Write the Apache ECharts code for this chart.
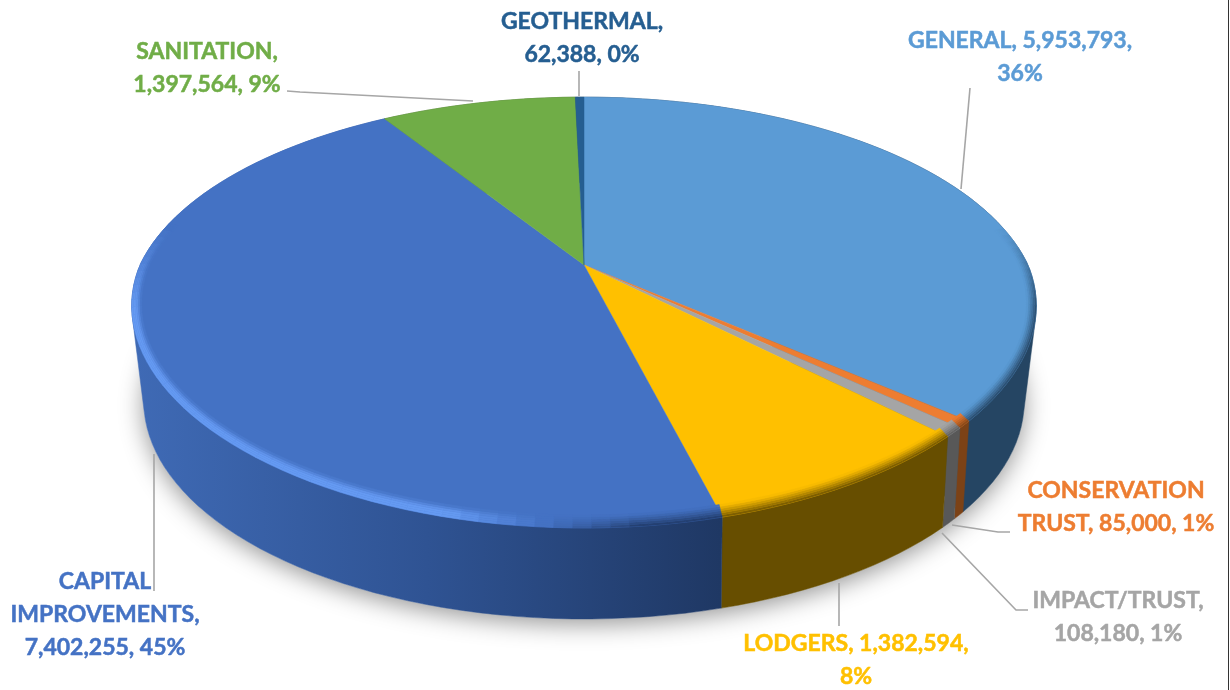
<!DOCTYPE html>
<html>
<head>
<meta charset="utf-8">
<script src="https://cdnjs.cloudflare.com/ajax/libs/echarts/6.0.0/echarts.min.js"></script>
<style>
  html, body { margin: 0; padding: 0; background: #fff; }
  #mainChart { width: 1230px; height: 690px; }
</style>
</head>
<body>
<div id="mainChart"></div>
<script>
// data, clockwise from 12 o'clock
var names = ['GENERAL', 'CONSERVATION TRUST', 'IMPACT/TRUST', 'LODGERS', 'CAPITAL IMPROVEMENTS', 'SANITATION', 'GEOTHERMAL'];
var values = [5953793, 85000, 108180, 1382594, 7402255, 1397564, 62388];
var percents = [36, 1, 1, 8, 45, 9, 0];

var faceColors = ['#5B9BD5', '#ED7D31', '#A5A5A5', '#FFC000', '#4472C4', '#70AD47', '#255E91'];
var wallColors = ['#254563', '#7C4216', '#585858', '#674E00', '#26417A', '#40652A', '#153654'];
var labelColors = faceColors;

// label text with the same line breaks as the original
var labelLines = [
    'GENERAL, 5,953,793,\n36%',
    'CONSERVATION\nTRUST, 85,000, 1%',
    'IMPACT/TRUST,\n108,180, 1%',
    'LODGERS, 1,382,594,\n8%',
    'CAPITAL\nIMPROVEMENTS,\n7,402,255, 45%',
    'SANITATION,\n1,397,564, 9%',
    'GEOTHERMAL,\n62,388, 0%'
];
var labelPos = [[1020, 57], [1116, 507], [1118, 617], [856, 660], [105, 615], [207, 68], [582, 38]];
var leaders = [
    [[970, 88], [961, 189]],
    [[952, 525], [998, 532], [1010, 532]],
    [[942, 533], [1016, 610], [1028, 610]],
    [[839, 583], [839, 626]],
    [[154, 454], [154, 591]],
    [[287, 91], [300, 92], [473, 101]],
    [[579, 71], [579, 96]]
];

// perspective disc: top face and bottom face
var total = values.reduce(function (a, b) { return a + b; }, 0);
var topFace = { cx: 584, cy: 265, a: 204, b: 444, q: 0.215, fx: 0.025, fy: 0.012 };
var botFace = { cx: 584, cy: 354, a: 208, b: 430, q: 0.215, fx: 0, fy: 0 };

function project(f, ang, rx, ry) {
    var u = Math.sin(ang), v = -Math.cos(ang);
    var w = 1 - f.q * v;
    var front = Math.max(v, 0);
    // front edge is a little narrower and lower than a pure perspective circle
    return [f.cx + f.b * u / w * rx * (1 - f.fx * front), f.cy + f.a * v / w * ry * (1 + f.fy * front)];
}

function sliceAngles(i) {
    var before = 0;
    for (var k = 0; k < i; k++) before += values[k];
    return [before / total * Math.PI * 2, (before + values[i]) / total * Math.PI * 2];
}

function arc(f, a0, a1, rx, ry) {
    var n = Math.max(2, Math.ceil((a1 - a0) / (Math.PI / 90)));
    var pts = [];
    for (var j = 0; j <= n; j++) pts.push(project(f, a0 + (a1 - a0) * j / n, rx, ry));
    return pts;
}

// convex hull, so the wall follows the outer tangent between the two faces
function hull(pts) {
    pts = pts.slice().sort(function (p, q) { return p[0] - q[0] || p[1] - q[1]; });
    function cross(o, a, b) { return (a[0] - o[0]) * (b[1] - o[1]) - (a[1] - o[1]) * (b[0] - o[0]); }
    function half(list) {
        var out = [];
        list.forEach(function (p) {
            while (out.length >= 2 && cross(out[out.length - 2], out[out.length - 1], p) <= 0) out.pop();
            out.push(p);
        });
        out.pop();
        return out;
    }
    return half(pts).concat(half(pts.slice().reverse()));
}

function hex(c) {
    return [parseInt(c.substr(1, 2), 16), parseInt(c.substr(3, 2), 16), parseInt(c.substr(5, 2), 16)];
}
function mix(c1, c2, t) {
    var a = hex(c1), b = hex(c2);
    return 'rgb(' + [0, 1, 2].map(function (k) { return Math.round(a[k] + (b[k] - a[k]) * t); }).join(',') + ')';
}
function clamp(x) { return Math.max(0, Math.min(1, x)); }

function renderShadow() {
    return {
        type: 'polygon',
        shape: { points: arc(botFace, 0, Math.PI * 2, 1, 1) },
        style: { fill: '#fff', shadowBlur: 24, shadowColor: 'rgba(0,0,0,0.42)', shadowOffsetY: 5 },
        silent: true
    };
}

function renderWall(params, api) {
    var i = params.dataIndex;
    var r = sliceAngles(i);
    var fill = wallColors[i];
    if (i === 4) {
        fill = new echarts.graphic.LinearGradient(135, 0, 720, 0, [
            { offset: 0, color: '#3F6AB5' },
            { offset: 0.5, color: '#2F5393' },
            { offset: 1, color: '#1F3864' }
        ], true);
    }
    var pts = arc(topFace, r[0], r[1], 1, 1).concat(arc(botFace, r[0], r[1], 1, 1));
    return {
        type: 'polygon',
        shape: { points: hull(pts) },
        style: { fill: fill, stroke: fill, lineWidth: 0.5 },
        silent: true
    };
}

function renderFace(params, api) {
    var i = params.dataIndex;
    var r = sliceAngles(i);
    var face = faceColors[i];
    var wall = i === 4 ? '#1F3864' : wallColors[i];
    var light = '#659AF2';
    var children = [{
        type: 'polygon',
        shape: { points: [[topFace.cx, topFace.cy]].concat(arc(topFace, r[0], r[1], 1, 1)) },
        style: { fill: face, stroke: face, lineWidth: 0.5 },
        silent: true
    }];
    // rounded rim: thin strips along the edge, light on the left, dark on the right
    var steps = 6, seg = Math.PI / 90;
    var nseg = Math.max(1, Math.ceil((r[1] - r[0]) / seg));
    for (var j = 0; j < nseg; j++) {
        var a0 = r[0] + (r[1] - r[0]) * j / nseg;
        var a1 = r[0] + (r[1] - r[0]) * (j + 1) / nseg;
        var mid = (a0 + a1) / 2;
        var u = Math.sin(mid), v = -Math.cos(mid);
        var front = clamp((v + 0.2) / 0.4);
        if (front <= 0) continue;
        var hi = clamp((0.1 - u) / 0.35);
        for (var s = 0; s < steps; s++) {
            var t0 = s / steps, t1 = (s + 1) / steps, tm = (t0 + t1) / 2;
            var col = hi > 0.5
                ? mix(face, light, front * (hi - 0.5) * 2 * Math.min(1, 2 * (1 - tm)))
                : mix(face, wall, front * (1 - hi * 2) * Math.pow(1 - tm, 1.2) * 0.95);
            var p = [
                project(topFace, a0, 1 - 0.022 * t0, 1 - 0.05 * t0),
                project(topFace, a1, 1 - 0.022 * t0, 1 - 0.05 * t0),
                project(topFace, a1, 1 - 0.022 * t1, 1 - 0.05 * t1),
                project(topFace, a0, 1 - 0.022 * t1, 1 - 0.05 * t1)
            ];
            children.push({ type: 'polygon', shape: { points: p }, style: { fill: col, stroke: col, lineWidth: 0.4 }, silent: true });
        }
    }
    return { type: 'group', children: children };
}

var graphics = [];
leaders.forEach(function (pts) {
    graphics.push({
        type: 'polyline', z: 5, silent: true,
        shape: { points: pts },
        style: { stroke: '#A6A6A6', lineWidth: 1.6, fill: null }
    });
});
labelLines.forEach(function (txt, i) {
    graphics.push({
        type: 'text', z: 6, silent: true,
        x: labelPos[i][0], y: labelPos[i][1],
        style: {
            text: txt,
            fill: labelColors[i],
            stroke: labelColors[i],
            lineWidth: 0.5,
            font: 'bold 23px Lato, "Open Sans", sans-serif',
            lineHeight: 33,
            align: 'center',
            verticalAlign: 'middle'
        }
    });
});
// thin frame edge at the right of the screenshot
graphics.push({
    type: 'rect', z: 7, silent: true,
    shape: { x: 1228, y: 0, width: 1, height: 690 },
    style: { fill: '#333' }
});

var chart = echarts.init(document.getElementById('mainChart'), null, { renderer: 'canvas' });
var option = {
    animation: false,
    backgroundColor: '#fff',
    graphic: graphics,
    series: [
        { type: 'custom', coordinateSystem: 'none', z: 1, data: [0], renderItem: renderShadow, silent: true },
        { type: 'custom', coordinateSystem: 'none', z: 2, name: 'wall', data: values, renderItem: renderWall, silent: true },
        { type: 'custom', coordinateSystem: 'none', z: 3, name: 'face', data: values, renderItem: renderFace, silent: true }
    ]
};
chart.setOption(option);
</script>
</body>
</html>
